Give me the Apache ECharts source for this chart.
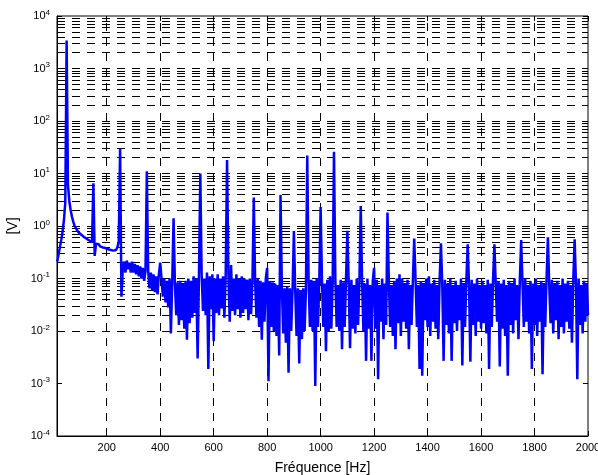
<!DOCTYPE html>
<html><head><meta charset="utf-8">
<script src="https://cdn.jsdelivr.net/npm/echarts@6/dist/echarts.min.js"></script>
<style>html,body{margin:0;padding:0;background:#fff}#c{width:598px;height:475px}</style>
</head><body><div id="c"></div>
<script>
// Sampling grid of the spectrum (Hz)
const freqStartHz = 15;
const freqStepHz = 5;

// Amplitude [V], 15 Hz .. 245 Hz
const spectrumLow = [
  0.21, 0.29, 0.40, 0.55, 0.80, 1.3, 2.8,
  3400, 6.0, 3.0, 2.0, 1.5, 1.2, 1.0, 0.9, 0.82, 0.75,
  0.72, 0.68, 0.65, 0.62, 0.6, 0.57, 0.55, 0.53, 0.5, 0.49,
  6.5, 0.27, 0.46, 0.43, 0.45, 0.41, 0.43, 0.39, 0.41, 0.38,
  0.4, 0.36, 0.38, 0.35, 0.37, 0.34, 0.36, 0.35, 0.4, 0.5
];
// 250 Hz .. 995 Hz
const spectrumMid = [
  30, 0.045, 0.15, 0.21, 0.13, 0.22, 0.15, 0.2, 0.13, 0.21,
  0.13, 0.19, 0.12, 0.18, 0.11, 0.17, 0.1, 0.16, 0.09, 0.14,
  11, 0.14, 0.065, 0.13, 0.06, 0.12, 0.055, 0.11, 0.05, 0.12,
  0.2, 0.1, 0.045, 0.1, 0.035, 0.09, 0.028, 0.1, 0.009, 0.09,
  1.4, 0.08, 0.02, 0.085, 0.013, 0.09, 0.016, 0.08, 0.011, 0.09,
  0.0068, 0.1, 0.014, 0.09, 0.018, 0.11, 0.022, 0.1, 0.003, 0.12,
  10, 0.12, 0.024, 0.1, 0.02, 0.13, 0.0019, 0.11, 0.026, 0.12,
  0.0064, 0.1, 0.022, 0.12, 0.02, 0.1, 0.027, 0.11, 0.018, 0.12,
  18, 0.13, 0.015, 0.18, 0.024, 0.1, 0.02, 0.12, 0.026, 0.1,
  0.018, 0.11, 0.022, 0.1, 0.026, 0.095, 0.016, 0.1, 0.021, 0.09,
  3.5, 0.09, 0.018, 0.1, 0.012, 0.09, 0.0068, 0.085, 0.015, 0.1,
  0.16, 0.0011, 0.09, 0.012, 0.085, 0.01, 0.08, 0.008, 0.075, 0.0034,
  3.9, 0.07, 0.009, 0.065, 0.006, 0.07, 0.0016, 0.065, 0.01, 0.06,
  0.8, 0.06, 0.008, 0.065, 0.0024, 0.06, 0.007, 0.065, 0.01, 0.06,
  22, 0.09, 0.012, 0.095, 0.01, 0.09, 0.0009, 0.1, 0.012, 0.09
];
// 1000 Hz .. 2000 Hz
const spectrumHigh = [
  2.3, 0.1, 0.012, 0.08, 0.0041, 0.095, 0.01, 0.11, 0.011, 0.085,
  26, 0.1, 0.012, 0.075, 0.01, 0.095, 0.0045, 0.085, 0.012, 0.1,
  0.81, 0.08, 0.0047, 0.095, 0.011, 0.075, 0.009, 0.1, 0.013, 0.085,
  2.4, 0.095, 0.01, 0.08, 0.0027, 0.1, 0.011, 0.075, 0.0027, 0.09,
  0.16, 0.011, 0.095, 0.0012, 0.075, 0.015, 0.1, 0.007, 0.08, 0.013,
  1.8, 0.095, 0.012, 0.075, 0.008, 0.09, 0.0045, 0.1, 0.014, 0.12,
  0.008, 0.1, 0.015, 0.08, 0.011, 0.095, 0.0045, 0.075, 0.013, 0.09,
  0.58, 0.1, 0.012, 0.075, 0.0019, 0.09, 0.0014, 0.08, 0.016, 0.1,
  0.012, 0.11, 0.008, 0.08, 0.015, 0.095, 0.011, 0.075, 0.007, 0.09,
  0.47, 0.075, 0.0027, 0.095, 0.013, 0.08, 0.009, 0.1, 0.0027, 0.075,
  0.014, 0.09, 0.01, 0.075, 0.016, 0.1, 0.0022, 0.08, 0.012, 0.09,
  0.45, 0.075, 0.0026, 0.095, 0.013, 0.08, 0.008, 0.1, 0.015, 0.075,
  0.011, 0.09, 0.014, 0.075, 0.009, 0.095, 0.0019, 0.08, 0.012, 0.1,
  0.45, 0.075, 0.015, 0.09, 0.0021, 0.08, 0.011, 0.095, 0.008, 0.075,
  0.0014, 0.09, 0.013, 0.08, 0.009, 0.1, 0.016, 0.075, 0.007, 0.09,
  0.54, 0.08, 0.012, 0.1, 0.015, 0.075, 0.009, 0.09, 0.0019, 0.08,
  0.013, 0.1, 0.008, 0.075, 0.015, 0.09, 0.0015, 0.08, 0.012, 0.1,
  0.61, 0.075, 0.014, 0.095, 0.009, 0.08, 0.016, 0.09, 0.007, 0.075,
  0.012, 0.1, 0.009, 0.08, 0.015, 0.09, 0.011, 0.075, 0.006, 0.095,
  0.56, 0.08, 0.0012, 0.1, 0.013, 0.075, 0.009, 0.09, 0.015, 0.08,
  0.02
];

// Axis ticks
const xTickHz = [200, 400, 600, 800, 1000, 1200, 1400, 1600, 1800, 2000];
const yTickExp = [-4, -3, -2, -1, 0, 1, 2, 3, 4];

const FONT = "'Liberation Sans', Arial, Helvetica, sans-serif";

const amplitudes = spectrumLow.concat(spectrumMid, spectrumHigh);
const seriesData = amplitudes.map((v, i) => [freqStartHz + i * freqStepHz, v]);

// grid lines (MATLAB style: each 1..9 x 10^n, and each x tick)
const hGrid = [];
for (let e = yTickExp[0]; e < yTickExp[yTickExp.length - 1]; e++) {
  for (let k = 1; k <= 9; k++) {
    if (e === yTickExp[0] && k === 1) continue;
    hGrid.push({ yAxis: k * Math.pow(10, e) });
  }
}
const vGrid = xTickHz.filter(v => v < 2000).map(v => ({ xAxis: v }));

const chart = echarts.init(document.getElementById('c'), null, { renderer: 'canvas' });
chart.setOption({
  animation: false,
  backgroundColor: '#fff',
  grid: { left: 57, right: 10, top: 16, bottom: 39, outerBoundsMode: 'none', containLabel: false,
          show: true, borderColor: '#000', borderWidth: 1, backgroundColor: 'transparent' },
  xAxis: [{
    type: 'value', min: 14, max: 2000, position: 'bottom',
    axisLine: { show: true, lineStyle: { color: '#000', width: 1 } },
    axisTick: { show: true, inside: true, length: 5, customValues: xTickHz, lineStyle: { color: '#000' } },
    axisLabel: { customValues: xTickHz, color: '#000', fontSize: 11, margin: 6, fontFamily: FONT,
                 formatter: v => String(v), hideOverlap: false },
    splitLine: { show: false },
    name: 'Fréquence [Hz]', nameLocation: 'middle', nameGap: 25,
    nameTextStyle: { color: '#000', fontSize: 14, fontFamily: FONT }
  }, {
    type: 'value', min: 14, max: 2000, position: 'top',
    axisLine: { show: false },
    axisTick: { show: true, inside: true, length: 5, customValues: xTickHz, lineStyle: { color: '#000' } },
    axisLabel: { show: false },
    splitLine: { show: false }
  }],
  yAxis: [{
    type: 'log', logBase: 10, min: 1e-4, max: 1e4, splitNumber: 8, position: 'left',
    axisLine: { show: true, lineStyle: { color: '#000', width: 1 } },
    axisTick: { show: true, inside: true, length: 5, lineStyle: { color: '#000' } },
    axisLabel: {
      color: '#000', margin: 7, fontFamily: FONT,
      formatter: v => '{b|10}{s|' + Math.round(Math.log10(v)) + '}',
      rich: {
        b: { fontSize: 11, color: '#000', fontFamily: FONT },
        s: { fontSize: 8, color: '#000', fontFamily: FONT, padding: [0, 0, 7, 0] }
      }
    },
    splitLine: { show: false },
    minorTick: { show: false },
    name: '[V]', nameLocation: 'middle', nameGap: 26,
    nameTextStyle: { color: '#000', fontSize: 14, fontFamily: FONT }
  }, {
    type: 'log', logBase: 10, min: 1e-4, max: 1e4, splitNumber: 8, position: 'right',
    axisLine: { show: false },
    axisTick: { show: true, inside: true, length: 5, lineStyle: { color: '#000' } },
    axisLabel: { show: false },
    splitLine: { show: false }
  }],
  series: [{
    type: 'line',
    data: [],
    xAxisIndex: 0, yAxisIndex: 0,
    z: 1,
    silent: true,
    markLine: {
      silent: true,
      symbol: ['none', 'none'],
      label: { show: false },
      animation: false,
      lineStyle: { color: '#000', width: 1, type: [8, 7] },
      emphasis: { disabled: true },
      data: hGrid.concat(vGrid)
    }
  }, {
    type: 'line',
    data: seriesData,
    xAxisIndex: 0, yAxisIndex: 0,
    z: 10,
    showSymbol: false,
    symbol: 'none',
    sampling: null,
    clip: true,
    lineStyle: { color: '#0000ff', width: 2.5, join: 'bevel' },
    emphasis: { disabled: true }
  }]
});
</script>
</body></html>
